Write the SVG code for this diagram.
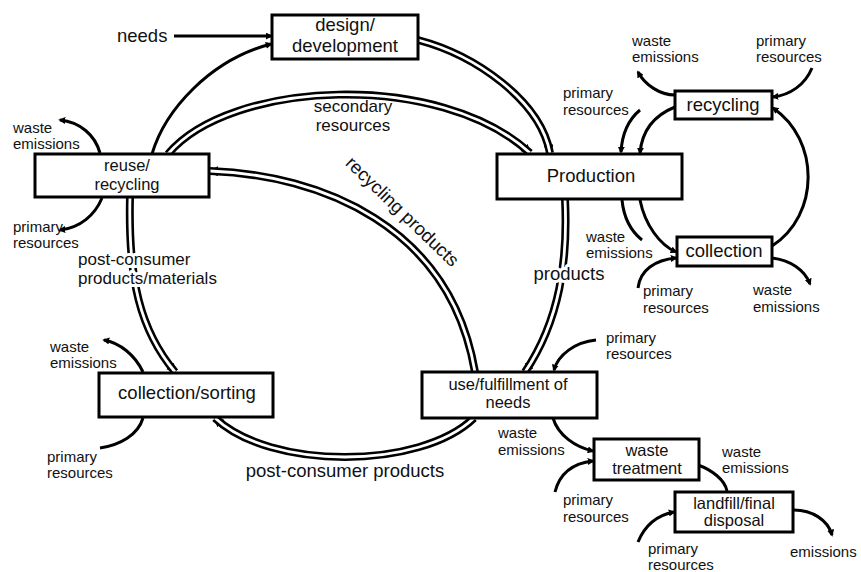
<svg xmlns="http://www.w3.org/2000/svg" width="861" height="572" viewBox="0 0 861 572">
<style>
  .box { fill: #fff; stroke: #000; stroke-width: 3; }
  .nt { font-family: "Liberation Sans", Arial, sans-serif; font-size: 18.5px; fill: #111; text-anchor: middle; }
  .nt2 { font-family: "Liberation Sans", Arial, sans-serif; font-size: 16.5px; fill: #111; text-anchor: middle; }
  .lbl { font-family: "Liberation Sans", Arial, sans-serif; font-size: 18.5px; fill: #111; }
  .lbl2 { font-family: "Liberation Sans", Arial, sans-serif; font-size: 17px; fill: #111; }
  .sm { font-family: "Liberation Sans", Arial, sans-serif; font-size: 15px; fill: #111; }
  .halo { stroke: #fff; stroke-width: 6; paint-order: stroke; stroke-linejoin: round; }
  .single { fill: none; stroke: #000; stroke-width: 3; }
  .dblo { fill: none; stroke: #000; stroke-width: 8; }
  .dbli { fill: none; stroke: #fff; stroke-width: 2.8; }
</style>
<defs>
  <marker id="ah" markerUnits="userSpaceOnUse" viewBox="0 0 8 8" refX="6" refY="4" markerWidth="7" markerHeight="7" orient="auto">
    <path d="M0,0 L8,4 L0,8 z" fill="#000"/>
  </marker>
  <marker id="ahd" markerUnits="userSpaceOnUse" viewBox="0 0 10 10" refX="8" refY="5" markerWidth="10" markerHeight="10" orient="auto-start-reverse">
    <path d="M0,0 L10,5 L0,10 z" fill="#000"/>
  </marker>
</defs>
<rect width="861" height="572" fill="#fff"/>

<g id="connectors">
  <g id="c-design-production">
    <path class="dblo" d="M418 40 C475 55, 540 100, 550 153" marker-end="url(#ahd)"/>
    <path class="dbli" d="M418 40 C475 55, 540 100, 550 153"/>
  </g>
  <g id="c-secondary">
    <path class="dblo" d="M168 154 C230 80, 440 70, 530 153" marker-end="url(#ahd)"/>
    <path class="dbli" d="M168 154 C230 80, 440 70, 530 153"/>
  </g>
  <g id="c-recycling-products">
    <path class="dblo" d="M475 372 C450 225, 320 175, 210 171" marker-end="url(#ahd)"/>
    <path class="dbli" d="M475 372 C450 225, 320 175, 210 171"/>
  </g>
  <g id="c-products">
    <path class="dblo" d="M565 199 C568 260, 560 320, 525 372" marker-end="url(#ahd)"/>
    <path class="dbli" d="M565 199 C568 260, 560 320, 525 372"/>
  </g>
  <g id="c-postconsumer-materials">
    <path class="dblo" d="M130 197 C128 280, 140 330, 175 372" marker-end="url(#ahd)"/>
    <path class="dbli" d="M130 197 C128 280, 140 330, 175 372"/>
  </g>
  <g id="c-postconsumer-products">
    <path class="dblo" d="M474 418 C420 470, 270 470, 215 418" marker-end="url(#ahd)"/>
    <path class="dbli" d="M474 418 C420 470, 270 470, 215 418"/>
  </g>

  <path class="single" d="M174 36 L271 36" marker-end="url(#ah)"/>
  <path class="single" d="M152 154 C165 110, 210 60, 271 44" marker-end="url(#ah)"/>

  <path class="single" d="M675 107 C655 115, 642 130, 640 153" marker-end="url(#ah)"/>
  <path class="single" d="M640 200 C645 225, 660 245, 676 252" marker-end="url(#ah)"/>
  <path class="single" d="M772 246 C820 215, 820 140, 773 108" marker-end="url(#ah)"/>

  <path class="single" d="M675 95 C660 95, 645 85, 638 72" marker-end="url(#ah)"/>
  <path class="single" d="M812 68 C805 85, 790 95, 773 97" marker-end="url(#ah)"/>
  <path class="single" d="M640 110 C628 120, 622 135, 621 152" marker-end="url(#ah)"/>
  <path class="single" d="M622 200 C624 220, 632 232, 642 240"/>
  <path class="single" d="M638 288 C640 270, 655 260, 676 258" marker-end="url(#ah)"/>
  <path class="single" d="M772 258 C790 260, 805 270, 810 284" marker-end="url(#ah)"/>

  <path class="single" d="M596 340 C575 342, 558 355, 554 370" marker-end="url(#ah)"/>
  <path class="single" d="M553 418 C558 435, 575 447, 593 451" marker-end="url(#ah)"/>
  <path class="single" d="M555 492 C560 472, 575 463, 593 461" marker-end="url(#ah)"/>
  <path class="single" d="M698 465 C712 470, 725 480, 727 491"/>
  <path class="single" d="M638 542 C645 525, 658 515, 674 512" marker-end="url(#ah)"/>
  <path class="single" d="M794 510 C812 510, 828 520, 832 535" marker-end="url(#ah)"/>

  <path class="single" d="M100 153 C95 135, 80 122, 60 120" marker-end="url(#ah)"/>
  <path class="single" d="M102 198 C95 215, 80 228, 60 230" marker-end="url(#ah)"/>
  <path class="single" d="M143 372 C135 355, 120 343, 104 340" marker-end="url(#ah)"/>
  <path class="single" d="M143 418 C138 435, 120 445, 100 448"/>

  <text class="lbl" x="117" y="42">needs</text>
  <text class="lbl2" text-anchor="middle" x="353" y="112">secondary</text>
  <text class="lbl2" text-anchor="middle" x="353" y="131">resources</text>
  <text class="lbl halo" text-anchor="middle" transform="translate(398 216) rotate(44)">recycling products</text>
  <text class="lbl halo" text-anchor="middle" x="569" y="280">products</text>
  <text class="lbl2 halo" x="78" y="265">post-consumer</text>
  <text class="lbl2 halo" x="78" y="284">products/materials</text>
  <text class="lbl" text-anchor="middle" x="345" y="477">post-consumer products</text>

  <text class="sm" x="13" y="133">waste</text>
  <text class="sm" x="13" y="149">emissions</text>
  <text class="sm" x="13" y="232">primary</text>
  <text class="sm" x="13" y="248">resources</text>

  <text class="sm" x="632" y="46">waste</text>
  <text class="sm" x="632" y="62">emissions</text>
  <text class="sm" x="756" y="46">primary</text>
  <text class="sm" x="756" y="62">resources</text>
  <text class="sm" x="563" y="98">primary</text>
  <text class="sm" x="563" y="115">resources</text>
  <text class="sm" x="586" y="242">waste</text>
  <text class="sm" x="586" y="258">emissions</text>
  <text class="sm" x="643" y="296">primary</text>
  <text class="sm" x="643" y="313">resources</text>
  <text class="sm" x="753" y="295">waste</text>
  <text class="sm" x="753" y="312">emissions</text>

  <text class="sm" x="606" y="343">primary</text>
  <text class="sm" x="606" y="359">resources</text>
  <text class="sm" x="498" y="438">waste</text>
  <text class="sm" x="498" y="455">emissions</text>
  <text class="sm" x="563" y="505">primary</text>
  <text class="sm" x="563" y="522">resources</text>
  <text class="sm" x="722" y="457">waste</text>
  <text class="sm" x="722" y="473">emissions</text>
  <text class="sm" x="648" y="554">primary</text>
  <text class="sm" x="648" y="570">resources</text>
  <text class="sm" x="790" y="557">emissions</text>

  <text class="sm" x="50" y="352">waste</text>
  <text class="sm" x="50" y="368">emissions</text>
  <text class="sm" x="47" y="462">primary</text>
  <text class="sm" x="47" y="478">resources</text>
</g>

<g id="design">
  <rect class="box" x="272" y="15" width="146" height="44"/>
  <text class="nt" x="345" y="31">design/</text>
  <text class="nt" x="345" y="52">development</text>
</g>
<g id="reuse">
  <rect class="box" x="35" y="154" width="174" height="43"/>
  <text class="nt2" x="127" y="171">reuse/</text>
  <text class="nt2" x="127" y="190">recycling</text>
</g>
<g id="production">
  <rect class="box" x="497" y="154" width="185" height="45"/>
  <text class="nt" x="591" y="182">Production</text>
</g>
<g id="recycling">
  <rect class="box" x="675" y="91" width="97" height="28"/>
  <text class="nt" x="723" y="111">recycling</text>
</g>
<g id="collection">
  <rect class="box" x="677" y="237" width="95" height="29"/>
  <text class="nt" x="724" y="257">collection</text>
</g>
<g id="collection-sorting">
  <rect class="box" x="99" y="373" width="174" height="44"/>
  <text class="nt" x="187" y="399">collection/sorting</text>
</g>
<g id="use">
  <rect class="box" x="422" y="372" width="175" height="46"/>
  <text class="nt2" x="508" y="390">use/fulfillment of</text>
  <text class="nt2" x="508" y="408">needs</text>
</g>
<g id="waste-treatment">
  <rect class="box" x="594" y="439" width="105" height="41"/>
  <text class="nt2" x="647" y="456">waste</text>
  <text class="nt2" x="647" y="474">treatment</text>
</g>
<g id="landfill">
  <rect class="box" x="675" y="492" width="118" height="40"/>
  <text class="nt2" x="734" y="509">landfill/final</text>
  <text class="nt2" x="734" y="526">disposal</text>
</g>
</svg>
